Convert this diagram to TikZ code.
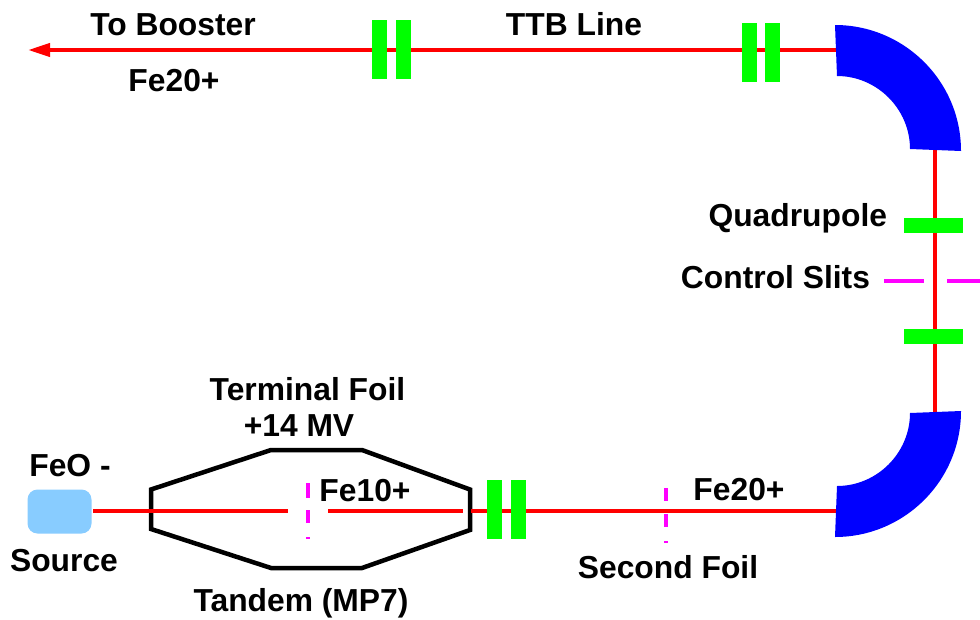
\documentclass[tikz,border=0pt]{standalone}
\usepackage{fontspec}
\setmainfont{Liberation Sans}
\usetikzlibrary{arrows.meta}
\definecolor{beamred}{RGB}{255,0,0}
\definecolor{quadgreen}{RGB}{0,255,0}
\definecolor{slitmag}{RGB}{255,0,255}
\definecolor{magblue}{RGB}{0,0,255}
\definecolor{srcblue}{RGB}{136,204,255}
\tikzset{
  beam/.style={draw=beamred,line width=4pt},
  quadbar/.style={fill=quadgreen,draw=none,inner sep=0pt,outer sep=0pt,minimum width=15pt,minimum height=59pt},
  quadflat/.style={fill=quadgreen,draw=none,inner sep=0pt,outer sep=0pt,minimum width=59pt,minimum height=15pt},
  slit/.style={draw=slitmag,line width=4pt},
  dipole/.style={fill=magblue,draw=none},
  lab/.style={font=\fontsize{31.8}{36}\selectfont\bfseries,inner sep=0pt,outer sep=0pt,align=center,text=black},
}
\begin{document}
\begin{tikzpicture}[x=1pt,y=-1pt]
\useasboundingbox[fill=white] (0,0) rectangle (980,619);
% coordinates
\coordinate (tip) at (28,50);
\coordinate (topR) at (836,50);
\coordinate (vTop) at (935,150);
\coordinate (vBot) at (935,412);
\coordinate (botR) at (836,511);
\coordinate (b1) at (93,511);
\coordinate (b2) at (288,511);
\coordinate (b3) at (328,511);
\coordinate (b4) at (463,511);
\coordinate (b5) at (471,511);
% tandem
\draw[black,line width=4.5pt,miter limit=10] (151,489.5) -- (271,450) -- (362,450) -- (470,489.5) -- (470,530) -- (362,568) -- (271,568) -- (151,529) -- cycle;
% beams
\draw[beam,-{Triangle[length=22pt 0 0,width=13pt 0 0]}] (topR) -- (tip);
\draw[beam] (vTop) -- (vBot);
\draw[beam] (b1) -- (b2);
\draw[beam] (b3) -- (b4);
\draw[beam] (b5) -- (botR);
% source
\node[fill=srcblue,draw=none,rounded corners=10pt,minimum width=64pt,minimum height=44pt,inner sep=0pt] (source) at (59.5,511.5) {};
% quads
\node[quadbar] (q1) at (379.5,49) {};
\node[quadbar] (q2) at (403.5,49) {};
\node[quadbar] (q3) at (749,52.5) {};
\node[quadbar] (q4) at (772.5,52.5) {};
\node[quadbar] (q5) at (494.5,509.5) {};
\node[quadbar] (q6) at (518.5,509.5) {};
\node[quadflat] (q7) at (933.5,225.5) {};
\node[quadflat] (q8) at (933.5,336.5) {};
% dipoles
\fill[dipole] (835,25) .. controls (904,25) and (961,81) .. (961,151) -- (910,149) .. controls (910,109) and (877,76) .. (837,76) -- cycle;
\fill[dipole] (835,537) .. controls (904,537) and (961,481) .. (961,411) -- (910,413) .. controls (910,453) and (877,486) .. (837,486) -- cycle;
% slits
\draw[slit] (307.5,483) -- (307.5,498);
\draw[slit] (307.5,510) -- (307.5,523);
\draw[slit] (307.5,537) -- (307.5,539);
\draw[slit] (665.5,488) -- (665.5,501);
\draw[slit] (665.5,514) -- (665.5,527);
\draw[slit] (665.5,541) -- (665.5,543);
\draw[slit] (884,281) -- (924,281);
\draw[slit] (947,281) -- (980,281);
% labels
\node[lab,anchor=base] (l1) at (173,35) {To Booster};
\node[lab,anchor=base] (l2) at (174,91) {Fe20+};
\node[lab,anchor=base] (l3) at (574,35) {TTB Line};
\node[lab,anchor=base east] (l4) at (887,226) {Quadrupole};
\node[lab,anchor=base east] (l5) at (870,288) {Control Slits};
\node[lab,anchor=base] (l6) at (307.5,400) {Terminal Foil};
\node[lab,anchor=base] (l7) at (299,436) {+14 MV};
\node[lab,anchor=base] (l8) at (365,501) {Fe10+};
\node[lab,anchor=base] (l9) at (70,476) {FeO -};
\node[lab,anchor=base] (l10) at (64,571) {Source};
\node[lab,anchor=base] (l11) at (301,611) {Tandem (MP7)};
\node[lab,anchor=base] (l12) at (739,500) {Fe20+};
\node[lab,anchor=base] (l13) at (668,578) {Second Foil};
\end{tikzpicture}
\end{document}
